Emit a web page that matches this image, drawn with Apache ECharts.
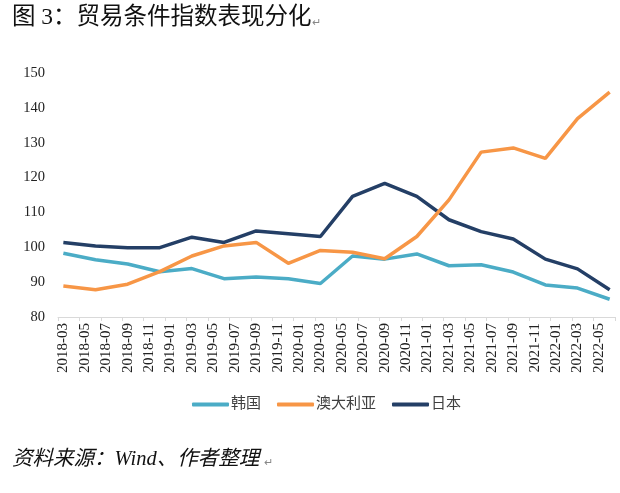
<!DOCTYPE html>
<html><head><meta charset="utf-8">
<script src="https://cdn.jsdelivr.net/npm/echarts@6/dist/echarts.min.js"></script>
<style>html,body{margin:0;padding:0;background:#fff}#c{width:620px;height:493px}</style>
</head><body><div id="c"></div>
<script>
// Monthly axis categories (labels shown every 2 months)
const months = [
 '2018-03','2018-04','2018-05','2018-06','2018-07','2018-08','2018-09','2018-10','2018-11','2018-12',
 '2019-01','2019-02','2019-03','2019-04','2019-05','2019-06','2019-07','2019-08','2019-09','2019-10','2019-11','2019-12',
 '2020-01','2020-02','2020-03','2020-04','2020-05','2020-06','2020-07','2020-08','2020-09','2020-10','2020-11','2020-12',
 '2021-01','2021-02','2021-03','2021-04','2021-05','2021-06','2021-07','2021-08','2021-09','2021-10','2021-11','2021-12',
 '2022-01','2022-02','2022-03','2022-04','2022-05','2022-06'
];
// Quarterly observations
const quarters = ['2018-03','2018-06','2018-09','2018-12','2019-03','2019-06','2019-09','2019-12',
 '2020-03','2020-06','2020-09','2020-12','2021-03','2021-06','2021-09','2021-12','2022-03','2022-06'];
const korea     = [98.3,96.4,95.2,93.0,93.9,91.0,91.5,91.0,89.6,97.5,96.6,98.1,94.7,95.0,92.9,89.2,88.3,85.1];
const australia = [88.9,87.8,89.4,93.0,97.5,100.4,101.4,95.4,99.1,98.6,96.7,103.1,113.6,127.3,128.5,125.5,136.9,144.5];
const japan     = [101.4,100.4,99.9,99.9,102.9,101.4,104.7,103.9,103.1,114.6,118.3,114.6,107.9,104.5,102.4,96.6,93.8,87.8];
const seriesNames = ['韩国','澳大利亚','日本'];
const yTicks = [80,90,100,110,120,130,140,150];

function toMonthly(vals){
  const m = months.map(()=>null);
  quarters.forEach((q,i)=>{ m[months.indexOf(q)] = vals[i]; });
  return m;
}
const colors = ['#4bacc6','#f79646','#243f66'];
const serif = "'Liberation Serif','Noto Sans CJK SC',serif";
const chart = echarts.init(document.getElementById('c'), null, {renderer:'canvas'});
chart.setOption({
  animation:false,
  backgroundColor:'#fff',
  graphic:[
    {type:'text', left:12, top:6, style:{text:'图 3：贸易条件指数表现分化', font:"23.5px "+serif, fill:'#111'}},
    {type:'text', left:312, top:18, style:{text:'↵', font:"11px "+serif, fill:'#888'}},
    {type:'text', left:12, top:449, style:{text:'资料来源：Wind、作者整理', font:"italic 20.5px "+serif, fill:'#111'}},
    {type:'text', left:264, top:458, style:{text:'↵', font:"11px "+serif, fill:'#888'}}
  ],
  grid:{left:58, right:5, top:73, bottom:176},
  legend:{
    data:seriesNames, bottom:76, left:187, itemWidth:37, itemHeight:4, itemGap:16,
    icon:'roundRect',
    textStyle:{fontFamily:serif, fontSize:15, color:'#404040', padding:[0,0,0,-3]}
  },
  xAxis:{
    type:'category', data:months, boundaryGap:true,
    axisLine:{lineStyle:{color:'#d9d9d9', width:1}},
    axisTick:{show:true, interval:1, length:4, lineStyle:{color:'#d9d9d9'}},
    axisLabel:{interval:1, rotate:90, fontFamily:serif, fontSize:15, color:'#222', margin:6}
  },
  yAxis:{
    type:'value', min:yTicks[0], max:yTicks[yTicks.length-1], interval:10,
    splitLine:{show:false}, axisLine:{show:false}, axisTick:{show:false},
    axisLabel:{fontFamily:serif, fontSize:14.5, color:'#222', margin:13}
  },
  series:[korea,australia,japan].map((d,i)=>({
    name:seriesNames[i], type:'line', data:toMonthly(d), connectNulls:true,
    symbol:'none', lineStyle:{width:3.5, color:colors[i]}, itemStyle:{color:colors[i]},
    z: i===1?3:2
  }))
});
</script></body></html>
